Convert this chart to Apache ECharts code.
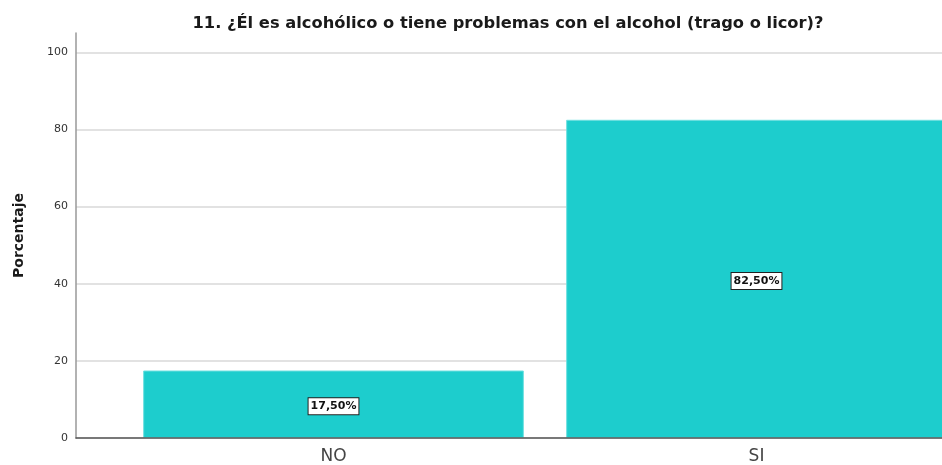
<!DOCTYPE html>
<html>
<head>
<meta charset="utf-8">
<script src="https://cdn.jsdelivr.net/npm/echarts@6/dist/echarts.min.js"></script>
<style>
html,body{margin:0;padding:0;background:#fff;}
#chart{width:942px;height:465px;}
</style>
</head>
<body>
<div id="chart"></div>
<script>
const titleText = '11. ¿Él es alcohólico o tiene problemas con el alcohol (trago o licor)?';
const categories = ['NO', 'SI'];
const percentValues = [17.5, 82.5];
const yTicks = [0, 20, 40, 60, 80, 100];
const yAxisName = 'Porcentaje';

const chart = echarts.init(document.getElementById('chart'), null, {renderer: 'canvas'});
const fmt = v => v.toFixed(2).replace('.', ',') + '%';
const gridColors = yTicks.map(() => '#d9d9d9').concat(['rgba(0,0,0,0)']);
const FONT = 'DejaVu Sans, Verdana, sans-serif';

chart.setOption({
  backgroundColor: '#ffffff',
  animation: false,
  title: {
    text: titleText,
    left: 503,
    textAlign: 'center',
    top: 11,
    textStyle: {fontFamily: FONT, fontSize: 16.3, fontWeight: 'bold', color: '#1a1a1a'}
  },
  grid: [
    {left: 76, right: 0, top: 33, bottom: 27, outerBoundsMode: 'none', containLabel: false},
    {left: 122, width: 846, top: 33, bottom: 27, outerBoundsMode: 'none', containLabel: false}
  ],
  xAxis: [
    {
      gridIndex: 0, type: 'category', data: categories, boundaryGap: true,
      axisLine: {show: true, lineStyle: {color: '#555', width: 1.5}},
      axisTick: {show: false}, axisLabel: {show: false}, splitLine: {show: false}, z: 5
    },
    {
      gridIndex: 1, type: 'category', data: categories, boundaryGap: true,
      axisLine: {show: false}, axisTick: {show: false},
      axisLabel: {show: true, margin: 10, fontFamily: FONT, fontSize: 17, color: '#444'},
      splitLine: {show: false}
    }
  ],
  yAxis: [
    {
      gridIndex: 0, type: 'value', min: 0, max: 105, interval: 20,
      name: yAxisName, nameLocation: 'middle', nameGap: 50, nameRotate: 90,
      nameTextStyle: {fontFamily: FONT, fontSize: 14, fontWeight: 'bold', color: '#1a1a1a'},
      axisLine: {show: true, lineStyle: {color: '#999', width: 1.5}},
      axisTick: {show: false},
      axisLabel: {
        margin: 8, fontFamily: FONT, fontSize: 11, color: '#333',
        formatter: v => (yTicks.indexOf(v) >= 0 ? String(v) : '')
      },
      splitLine: {show: true, lineStyle: {color: gridColors, width: 1.5}}
    },
    {
      gridIndex: 1, type: 'value', min: 0, max: 105, interval: 20, show: false,
      splitLine: {show: false}
    }
  ],
  series: [
    {
      type: 'bar', xAxisIndex: 1, yAxisIndex: 1,
      data: percentValues, barWidth: '90%',
      itemStyle: {color: '#1DCDCD', borderColor: '#6fe0e0', borderWidth: 1},
      label: {
        show: true, position: 'inside', offset: [0, 2],
        formatter: p => fmt(p.value),
        fontFamily: FONT, fontSize: 11, fontWeight: 'bold', color: '#111',
        backgroundColor: '#fff', borderColor: '#222', borderWidth: 1, padding: [3, 2, 2, 2]
      },
      z: 3
    }
  ]
});
</script>
</body>
</html>
